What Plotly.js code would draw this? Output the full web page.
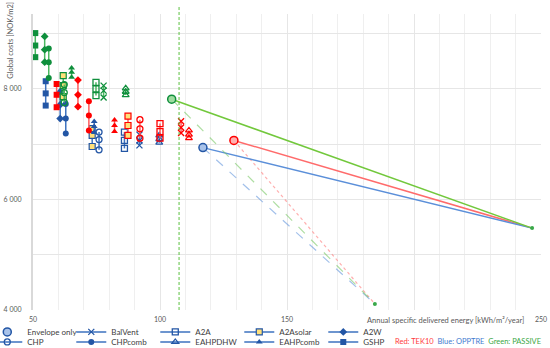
<!DOCTYPE html>
<html>
<head>
<meta charset="utf-8">
<script src="https://cdn.plot.ly/plotly-3.0.1.min.js"></script>
<style>html,body{margin:0;padding:0;background:#fff;}#chart{width:550px;height:348px;}</style>
</head>
<body>
<div id="chart"></div>
<script>
// ---- data ----
const seriesNames = ['BalVent','A2A','A2Asolar','A2W','CHP','CHPcomb','EAHPDHW','EAHPcomb','GSHP'];

const tek10X = [108.3, 100.0, 87.4, 67.7, 92.1, 72.0, 111.4, 82.1, 59.3];
const tek10Y = [[7410,7300,7200],[7370,7225,7105],[7505,7335,7155],[8155,7890,7675],[7440,7275,7105],[7775,7515,7245],[7245,7170,7105],[7435,7335,7225],[8085,7890,7665]];

const opptreX = [91.9, 86.0, 73.3, 60.7, 76.0, 62.9, 99.7, 74.1, 55.0];
const opptreY = [[7170,7065,6975],[7215,7065,6920],[7280,7155,6955],[7945,7710,7460],[7215,7080,6895],[7725,7460,7190],[7155,7090,7025],[7405,7315,7210],[8135,7915,7695]];

const passiveX = [77.8, 74.8, 61.9, 54.6, 62.3, 56.2, 86.5, 65.2, 50.9];
const passiveY = [[8055,7965,7840],[8115,7995,7875],[8235,8055,7855],[8945,8705,8480],[8075,7930,7750],[8725,8480,8195],[8005,7945,7885],[8375,8295,8205],[9005,8780,8570]];

// Envelope only: TEK10, OPPTRE, PASSIVE
const envelopeX = [129.1, 116.9, 104.6];
const envelopeY = [7065, 6935, 7810];

const targetSolid = [246.5, 5480];
const targetDashed = [184.6, 4110];
const dividerX = 107.5;

const xTickVals = [50, 100, 150, 200, 250];
const xTickText = ['50', '100', '150', '', '250'];
const yTickVals = [4000, 6000, 8000];
const yTickText = ['4 000', '6 000', '8 000'];

// ---- styles ----
const symbols = {
  BalVent: {symbol:'x-thin-open', fill:false},
  A2A: {symbol:'square-open', fill:false},
  A2Asolar: {symbol:'square', fill:'#ffe07a'},
  A2W: {symbol:'diamond', fill:true},
  CHP: {symbol:'circle-open', fill:false},
  CHPcomb: {symbol:'circle', fill:true},
  EAHPDHW: {symbol:'triangle-up-open', fill:false},
  EAHPcomb: {symbol:'triangle-up', fill:true},
  GSHP: {symbol:'square', fill:true}
};
const scen = [
  {key:'TEK10', xs:tek10X, ys:tek10Y, mc:'#ff0000', lc:'#ff5c5c', light:'#ffb0b0', solid:'#ff6b6b', dash:'dot', dashc:'rgba(255,120,120,0.6)'},
  {key:'OPPTRE', xs:opptreX, ys:opptreY, mc:'#2356a5', lc:'#3d72bf', light:'#a9c3ea', solid:'#5b8fd9', dash:'dash', dashc:'rgba(100,150,220,0.6)'},
  {key:'PASSIVE', xs:passiveX, ys:passiveY, mc:'#0f8f3c', lc:'#4cb860', light:'#9fdca0', solid:'#72c83c', dash:'dash', dashc:'rgba(120,200,100,0.6)'}
];
const legend1 = ['BalVent','A2A','A2Asolar','A2W'];

const traces = [];
scen.forEach((s, i) => {
  traces.push({x:[envelopeX[i], targetSolid[0]], y:[envelopeY[i], targetSolid[1]], mode:'lines',
    line:{color:s.solid, width:1.5}, showlegend:false, hoverinfo:'skip'});
  traces.push({x:[envelopeX[i], targetDashed[0]], y:[envelopeY[i], targetDashed[1]], mode:'lines',
    line:{color:s.dashc, width:1.2, dash:s.dash}, showlegend:false, hoverinfo:'skip'});
});
traces.push({x:[targetSolid[0], targetDashed[0]], y:[targetSolid[1], targetDashed[1]], mode:'markers',
  marker:{color:'#3aa84a', size:4}, showlegend:false, hoverinfo:'skip'});

[1, 0, 2].forEach(i => {
  const s = scen[i];
  traces.push({x:[envelopeX[i]], y:[envelopeY[i]], mode:'markers', name:'Envelope only',
    legend:'legend', showlegend: i === 1,
    marker:{symbol:'circle', size:8, color:s.light, line:{color:s.mc, width:1.5}}});
});

[1, 0, 2].forEach(si => {
  const s = scen[si];
  seriesNames.forEach((nm, k) => {
    const st = symbols[nm];
    const open = st.fill === false;
    const marker = {symbol: st.symbol, size: 6};
    if (st.fill === true) { marker.color = s.mc; }
    else if (open) { marker.color = s.mc; marker.line = {width:1.3, color:s.mc}; }
    else { marker.color = st.fill; marker.line = {width:1.2, color:s.mc}; }
    traces.push({
      x: s.ys[k].map(() => s.xs[k]), y: s.ys[k], mode:'lines+markers', name:nm,
      legend: legend1.includes(nm) ? 'legend' : 'legend2',
      showlegend: si === 1,
      line:{color: si === 1 ? '#3d72bf' : s.lc, width:1.5},
      marker: marker
    });
  });
});

const legendBase = {orientation:'h', xanchor:'left', yanchor:'middle', entrywidth:39,
  font:{size:8, color:'#404040'}, bgcolor:'rgba(0,0,0,0)', itemwidth:30, traceorder:'normal'};

const layout = {
  width:550, height:348,
  margin:{l:33, r:9, t:14, b:38, autoexpand:false},
  paper_bgcolor:'#fff', plot_bgcolor:'#fff',
  font:{family:'Lato, "Open Sans", sans-serif', size:8, color:'#595959'},
  showlegend:true,
  xaxis:{range:[50,250], tickmode:'array', tickvals:xTickVals, ticktext:xTickText,
    showgrid:true, gridcolor:'#e6e6e6', gridwidth:1, zeroline:false, showline:false,
    minor:{tickmode:'linear', tick0:50, dtick:10, showgrid:true, gridcolor:'#efefef', gridwidth:1},
    tickfont:{size:7, color:'#595959'}, ticks:'', ticklabelstandoff:4},
  yaxis:{range:[4000,9350], tickmode:'array', tickvals:yTickVals, ticktext:yTickText,
    showgrid:true, gridcolor:'#e6e6e6', zeroline:false, showline:true, linecolor:'#d9d9d9', linewidth:2,
    minor:{tickmode:'linear', tick0:4000, dtick:1000, showgrid:true, gridcolor:'#e6e6e6'},
    tickfont:{size:7, color:'#595959'}, ticks:'', ticklabelstandoff:8},
  legend:Object.assign({x:-0.09, y:-0.074}, legendBase),
  legend2:Object.assign({x:-0.09, y:-0.108}, legendBase),
  shapes:[{type:'line', xref:'x', yref:'paper', x0:dividerX, x1:dividerX, y0:0, y1:1.03,
    line:{color:'#5cc040', width:1, dash:'3px,2px'}}],
  annotations:[
    {xref:'x', yref:'paper', x:244, y:-0.034, xanchor:'right', yanchor:'middle', showarrow:false,
      text:'Annual specific delivered energy [kWh/m²/year]', font:{size:7.5, color:'#595959'}},
    {xref:'paper', yref:'paper', x:-0.045, y:0.91, xanchor:'center', yanchor:'middle', showarrow:false,
      textangle:-90, text:'Global costs [NOK/m2]', font:{size:7.5, color:'#595959'}},
    {xref:'paper', yref:'paper', x:1.004, y:-0.105, xanchor:'right', yanchor:'middle', showarrow:false,
      text:'<span style="color:#ff3b3b">Red: TEK10</span>  <span style="color:#3f7bd0">Blue: OPPTRE</span>  <span style="color:#3aa845">Green: PASSIVE</span>',
      font:{size:7.5}}
  ]
};

Plotly.newPlot('chart', traces, layout, {displayModeBar:false, staticPlot:true});
</script>
</body>
</html>
